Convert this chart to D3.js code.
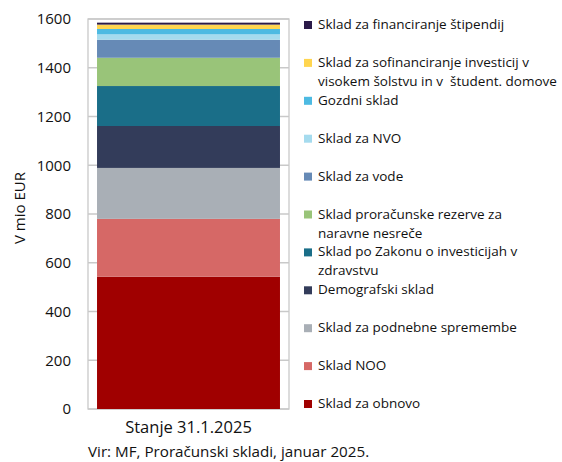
<!DOCTYPE html>
<html>
<head>
<meta charset="utf-8">
<script src="https://cdn.jsdelivr.net/npm/d3@7"></script>
<style>
  body { margin: 0; background: #fff; }
  text { font-family: "Open Sans", Roboto, sans-serif; fill: #111; white-space: pre; }
</style>
</head>
<body>
<div id="chart"></div>
<script>
// data, bottom to top of the stack
var categories = ["Stanje 31.1.2025"]
var funds = [
    "Sklad za obnovo",
    "Sklad NOO",
    "Sklad za podnebne spremembe",
    "Demografski sklad",
    "Sklad po Zakonu o investicijah v zdravstvu",
    "Sklad proračunske rezerve za naravne nesreče",
    "Sklad za vode",
    "Sklad za NVO",
    "Gozdni sklad",
    "Sklad za sofinanciranje investicij v visokem šolstvu in v  študent. domove",
    "Sklad za financiranje štipendij"
]
var values = [543, 237, 209, 172, 164, 116, 74, 22, 22, 18, 8]
var colors = ["#a00000", "#d66866", "#a9afb6", "#333c5a", "#1a6e88", "#99c479",
              "#668ab6", "#a5dbee", "#4dbae2", "#ffd54f", "#2b1a48"]
// legend text lines, top to bottom
var legendLines = [
    ["Sklad za financiranje štipendij"],
    ["Sklad za sofinanciranje investicij v", "visokem šolstvu in v  študent. domove"],
    ["Gozdni sklad"],
    ["Sklad za NVO"],
    ["Sklad za vode"],
    ["Sklad proračunske rezerve za", "naravne nesreče"],
    ["Sklad po Zakonu o investicijah v", "zdravstvu"],
    ["Demografski sklad"],
    ["Sklad za podnebne spremembe"],
    ["Sklad NOO"],
    ["Sklad za obnovo"]
]
var yTicks = [0, 200, 400, 600, 800, 1000, 1200, 1400, 1600]

var W = 562, H = 462
var plot = {left: 88, right: 289, top: 19, bottom: 409}

var svg = d3.select("#chart").append("svg")
    .attr("width", W)
    .attr("height", H)

var x = d3.scaleBand()
    .domain(categories)
    .range([plot.left, plot.right])
    .padding(0.047)

var y = d3.scaleLinear()
    .domain([0, 1600])
    .range([plot.bottom, plot.top])

// gridlines
svg.append("g").selectAll("line")
    .data(yTicks)
    .enter().append("line")
    .attr("x1", plot.left)
    .attr("x2", plot.right)
    .attr("y1", d => y(d))
    .attr("y2", d => y(d))
    .attr("stroke", "#c9c9c9")
    .attr("stroke-width", 1.3)

// plot frame
svg.append("rect")
    .attr("x", plot.left)
    .attr("y", plot.top)
    .attr("width", plot.right - plot.left)
    .attr("height", plot.bottom - plot.top)
    .attr("fill", "none")
    .attr("stroke", "#c9c9c9")
    .attr("stroke-width", 1.3)

// stacked segments
var stackRow = {}
funds.forEach(function(f, i){ stackRow[f] = values[i] })
var stacked = d3.stack().keys(funds)([stackRow])

svg.append("g").selectAll("rect")
    .data(stacked)
    .enter().append("rect")
    .attr("x", x(categories[0]))
    .attr("width", x.bandwidth())
    .attr("y", d => y(d[0][1]))
    .attr("height", d => y(d[0][0]) - y(d[0][1]))
    .attr("fill", (d, i) => colors[i])

// y axis labels
var yAxis = d3.axisLeft(y).tickValues(yTicks).tickFormat(d3.format("d")).tickSize(0).tickPadding(17)
var ga = svg.append("g")
    .attr("transform", "translate(" + plot.left + ",0)")
    .call(yAxis)
ga.select(".domain").remove()
ga.selectAll("text")
    .attr("font-size", "15px")
    .style("font-family", "'Open Sans', sans-serif")
    .attr("fill", "#111")

svg.append("text")
    .attr("transform", "translate(21,208) rotate(-90)")
    .attr("text-anchor", "middle")
    .attr("dominant-baseline", "middle")
    .attr("font-size", "15px")
    .text("V mio EUR")

// x category label
svg.append("text")
    .attr("x", x(categories[0]) + x.bandwidth() / 2)
    .attr("y", 433)
    .attr("text-anchor", "middle")
    .attr("font-size", "16.5px")
    .text(categories[0])

// source
svg.append("text")
    .attr("x", 88)
    .attr("y", 457)
    .attr("font-size", "15.2px")
    .text("Vir: MF, Proračunski skladi, januar 2025.")

// legend
var legStep = 37.9
var leg = svg.append("g").attr("transform", "translate(304,25)")
var items = leg.selectAll("g")
    .data(legendLines)
    .enter().append("g")
    .attr("transform", (d, i) => "translate(0," + (i * legStep) + ")")

items.append("rect")
    .attr("x", 0)
    .attr("y", -4)
    .attr("width", 8)
    .attr("height", 8)
    .attr("fill", (d, i) => colors[colors.length - 1 - i])

items.each(function(lines){
    var t = d3.select(this).append("text")
        .attr("x", 14)
        .attr("y", 0)
        .attr("dominant-baseline", "middle")
        .attr("font-size", "13.5px")
    lines.forEach(function(l, j){
        t.append("tspan")
            .attr("x", 14)
            .attr("y", j * 19)
            .text(l)
    })
})
</script>
</body>
</html>
